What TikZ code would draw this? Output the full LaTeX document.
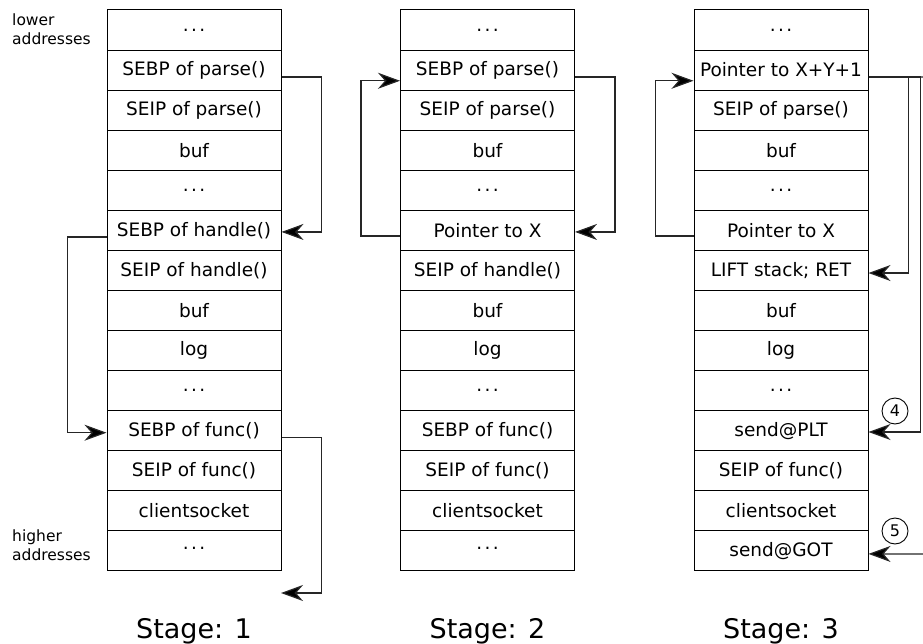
\documentclass[tikz,border=0pt]{standalone}
\usepackage{fontspec}
\setmainfont{DejaVu Sans}
\usetikzlibrary{arrows.meta}
% widely spaced dots for the elided stack slots
\newcommand{\stackdots}[1][-2pt]{\raisebox{#1}{.\kern2.4pt.\kern2.4pt.}}

\begin{document}
\begin{tikzpicture}[x=1pt,y=-1pt,
  cell/.style={draw, line width=1pt, minimum width=174pt, minimum height=40.07pt,
    inner sep=0pt, anchor=center, font=\fontsize{18.5}{22}\selectfont},
  link/.style={line width=1.2pt, draw=black!85},
  ptr/.style={link, -{Stealth[length=22pt,width=16pt,inset=7pt,fill=black]}},
  circ/.style={draw, circle, line width=0.9pt, minimum size=26pt, inner sep=0pt,
    font=\fontsize{16}{18}\selectfont},
  side/.style={align=left, inner sep=0pt, font=\fontsize{15.5}{19}\selectfont},
  stagelbl/.style={inner sep=0pt, anchor=base, font=\fontsize{27}{32}\selectfont}]
\useasboundingbox (0,0) rectangle (923,644);

% stack frames, one column per stage
\foreach \t [count=\i from 0] in {\stackdots, {SEBP of parse()}, {SEIP of parse()}, buf, \stackdots,
    {SEBP of handle()}, {SEIP of handle()}, buf, log, \stackdots, {SEBP of func()},
    {SEIP of func()}, clientsocket, {\stackdots[6pt]}}
  \node[cell] (a\i) at (194,{30+40.07*\i}) {\t};

\foreach \t [count=\i from 0] in {\stackdots, {SEBP of parse()}, {SEIP of parse()}, buf, \stackdots,
    {Pointer to X}, {SEIP of handle()}, buf, log, \stackdots, {SEBP of func()},
    {SEIP of func()}, clientsocket, {\stackdots[6pt]}}
  \node[cell] (b\i) at (487.5,{30+40.07*\i}) {\t};

\foreach \t [count=\i from 0] in {\stackdots, {Pointer to X+Y+1}, {SEIP of parse()}, buf, \stackdots,
    {Pointer to X}, {LIFT stack; RET}, buf, log, \stackdots, {send@PLT},
    {SEIP of func()}, clientsocket, {send@GOT}}
  \node[cell] (c\i) at (781,{30+40.07*\i}) {\t};

% address direction
\node[side, anchor=north west] (lo) at (12,13.5) {lower\\addresses};
\node[side, anchor=north west] (hi) at (12,530) {higher\\addresses};

% stage 1 frame-pointer chain
\coordinate (aout) at (281,593);
\draw[ptr] ([yshift=-7pt]a1.east) -- ++(40,0) |- ([yshift=-1.6pt]a5.east);
\draw[ptr] ([yshift=-6.6pt]a5.west) -- ++(-39,0) |- ([yshift=-2pt]a10.west);
\draw[ptr] ([yshift=-7pt]a10.east) -- ++(40,0) |- (aout);

% stage 2
\draw[ptr] ([yshift=-7pt]b1.east) -- ++(40,0) |- ([yshift=-1.6pt]b5.east);
\draw[ptr] ([yshift=-5.6pt]b5.west) -- ++(-39,0) |- ([yshift=-10.7pt]b1.west);

% stage 3
\coordinate (cright) at (923,77);
\coordinate (cin) at (923,554);
\draw[ptr] ([yshift=-5.6pt]c5.west) -- ++(-38,0) |- ([yshift=-10.7pt]c1.west);
\draw[link] ([yshift=-7pt]c1.east) -- (cright);
\draw[ptr] ([yshift=-7pt]c1.east) -- ++(40,0) |- ([yshift=-2.6pt]c6.east);
\draw[ptr] ([yshift=-7pt]c1.east) -- ++(52,0) |- ([yshift=-1.3pt]c10.east);
\draw[ptr] (cin) -- ([yshift=-3pt]c13.east);
\node[circ] (n4) at (895,411) {4};
\node[circ] (n5) at (895,531) {5};

% captions
\node[stagelbl] (st1) at (194,638) {Stage: 1};
\node[stagelbl] (st2) at (487.5,638) {Stage: 2};
\node[stagelbl] (st3) at (781,638) {Stage: 3};
\end{tikzpicture}
\end{document}
